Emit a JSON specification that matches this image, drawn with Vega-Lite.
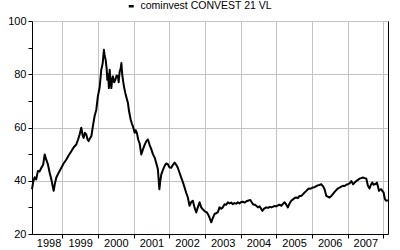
{
  "$schema": "https://vega.github.io/schema/vega-lite/v6.json",
  "autosize": "none",
  "width": 356,
  "height": 213,
  "padding": {"left": 32, "top": 21, "right": 12, "bottom": 16},
  "background": "white",
  "config": {
    "view": {"stroke": null},
    "font": "Liberation Sans",
    "axis": {"labelFont": "Liberation Sans", "labelFontSize": 11, "labelColor": "black", "domainColor": "black", "tickColor": "black", "gridColor": "#c4c4c4", "gridWidth": 1, "title": null}
  },
  "data": {"values": [
    {"date": "1998-02-24", "value": 36.8}, {"date": "1998-03-08", "value": 39.5}, {"date": "1998-03-23", "value": 41.3}, {"date": "1998-04-08", "value": 40.5},
    {"date": "1998-04-26", "value": 43.7}, {"date": "1998-05-13", "value": 43.5}, {"date": "1998-05-31", "value": 44.9}, {"date": "1998-06-18", "value": 46.0},
    {"date": "1998-07-04", "value": 49.9}, {"date": "1998-07-19", "value": 48.0}, {"date": "1998-08-06", "value": 46.2}, {"date": "1998-08-24", "value": 43.0},
    {"date": "1998-09-10", "value": 40.6}, {"date": "1998-09-24", "value": 38.0}, {"date": "1998-10-04", "value": 36.2}, {"date": "1998-10-17", "value": 39.0},
    {"date": "1998-10-31", "value": 41.2}, {"date": "1998-11-24", "value": 43.0}, {"date": "1998-12-22", "value": 44.9}, {"date": "1999-01-14", "value": 46.5},
    {"date": "1999-02-11", "value": 48.0}, {"date": "1999-03-06", "value": 49.5}, {"date": "1999-04-03", "value": 51.1}, {"date": "1999-04-26", "value": 52.5},
    {"date": "1999-05-24", "value": 53.6}, {"date": "1999-06-11", "value": 55.5}, {"date": "1999-06-27", "value": 57.4}, {"date": "1999-07-14", "value": 59.9},
    {"date": "1999-07-28", "value": 57.0}, {"date": "1999-08-07", "value": 56.1}, {"date": "1999-08-20", "value": 58.0}, {"date": "1999-09-03", "value": 57.4},
    {"date": "1999-09-17", "value": 55.5}, {"date": "1999-09-27", "value": 54.9}, {"date": "1999-10-12", "value": 56.0}, {"date": "1999-10-25", "value": 56.7},
    {"date": "1999-11-10", "value": 60.5}, {"date": "1999-11-27", "value": 64.2}, {"date": "1999-12-15", "value": 66.7}, {"date": "1999-12-31", "value": 71.7},
    {"date": "2000-01-18", "value": 75.0}, {"date": "2000-02-04", "value": 81.7}, {"date": "2000-02-18", "value": 84.0}, {"date": "2000-03-02", "value": 89.2},
    {"date": "2000-03-09", "value": 87.0}, {"date": "2000-03-20", "value": 85.4}, {"date": "2000-03-30", "value": 82.0}, {"date": "2000-04-06", "value": 77.9},
    {"date": "2000-04-14", "value": 80.0}, {"date": "2000-04-22", "value": 74.8}, {"date": "2000-04-30", "value": 81.7}, {"date": "2000-05-08", "value": 78.0},
    {"date": "2000-05-17", "value": 74.8}, {"date": "2000-05-25", "value": 78.0}, {"date": "2000-06-02", "value": 79.2}, {"date": "2000-06-15", "value": 77.0},
    {"date": "2000-06-27", "value": 77.9}, {"date": "2000-07-10", "value": 79.5}, {"date": "2000-07-24", "value": 79.2}, {"date": "2000-07-31", "value": 77.0},
    {"date": "2000-08-10", "value": 81.0}, {"date": "2000-08-20", "value": 82.0}, {"date": "2000-08-28", "value": 84.2}, {"date": "2000-09-05", "value": 80.0},
    {"date": "2000-09-13", "value": 77.9}, {"date": "2000-09-25", "value": 75.0}, {"date": "2000-10-07", "value": 73.0}, {"date": "2000-10-21", "value": 71.0},
    {"date": "2000-11-03", "value": 69.2}, {"date": "2000-11-15", "value": 66.0}, {"date": "2000-12-01", "value": 63.0}, {"date": "2000-12-13", "value": 61.5},
    {"date": "2000-12-24", "value": 60.5}, {"date": "2001-01-11", "value": 58.0}, {"date": "2001-01-21", "value": 59.0}, {"date": "2001-02-03", "value": 58.0},
    {"date": "2001-02-16", "value": 55.5}, {"date": "2001-03-03", "value": 54.0}, {"date": "2001-03-20", "value": 49.9}, {"date": "2001-04-06", "value": 51.8},
    {"date": "2001-04-23", "value": 53.5}, {"date": "2001-05-11", "value": 54.9}, {"date": "2001-05-27", "value": 55.5}, {"date": "2001-06-13", "value": 53.5},
    {"date": "2001-07-01", "value": 51.8}, {"date": "2001-07-17", "value": 50.0}, {"date": "2001-08-04", "value": 48.7}, {"date": "2001-08-21", "value": 46.5},
    {"date": "2001-09-06", "value": 44.3}, {"date": "2001-09-21", "value": 36.8}, {"date": "2001-10-01", "value": 40.0}, {"date": "2001-10-11", "value": 42.4},
    {"date": "2001-10-27", "value": 44.0}, {"date": "2001-11-13", "value": 45.5}, {"date": "2001-11-30", "value": 46.5}, {"date": "2001-12-17", "value": 46.2},
    {"date": "2002-01-04", "value": 45.0}, {"date": "2002-01-21", "value": 44.9}, {"date": "2002-02-07", "value": 46.0}, {"date": "2002-02-24", "value": 46.8},
    {"date": "2002-03-13", "value": 46.0}, {"date": "2002-03-29", "value": 44.9}, {"date": "2002-04-16", "value": 43.0}, {"date": "2002-05-03", "value": 41.2},
    {"date": "2002-05-20", "value": 39.5}, {"date": "2002-06-06", "value": 37.5}, {"date": "2002-06-23", "value": 35.5}, {"date": "2002-07-10", "value": 33.7},
    {"date": "2002-07-27", "value": 30.6}, {"date": "2002-08-14", "value": 32.0}, {"date": "2002-08-30", "value": 32.5}, {"date": "2002-09-16", "value": 30.0},
    {"date": "2002-10-04", "value": 28.1}, {"date": "2002-10-20", "value": 30.0}, {"date": "2002-11-07", "value": 31.9}, {"date": "2002-11-24", "value": 30.0},
    {"date": "2002-12-10", "value": 29.3}, {"date": "2002-12-31", "value": 28.5}, {"date": "2003-01-21", "value": 28.1}, {"date": "2003-02-07", "value": 27.0},
    {"date": "2003-02-17", "value": 26.2}, {"date": "2003-03-07", "value": 24.4}, {"date": "2003-03-23", "value": 26.0}, {"date": "2003-04-09", "value": 27.5},
    {"date": "2003-04-27", "value": 27.8}, {"date": "2003-05-13", "value": 28.1}, {"date": "2003-05-30", "value": 30.0}, {"date": "2003-06-17", "value": 29.5},
    {"date": "2003-07-03", "value": 30.0}, {"date": "2003-07-21", "value": 31.2}, {"date": "2003-08-07", "value": 31.0}, {"date": "2003-08-24", "value": 31.9},
    {"date": "2003-09-10", "value": 31.5}, {"date": "2003-09-27", "value": 31.8}, {"date": "2003-10-14", "value": 31.2}, {"date": "2003-10-31", "value": 31.6},
    {"date": "2003-11-18", "value": 31.4}, {"date": "2003-12-04", "value": 31.9}, {"date": "2003-12-21", "value": 31.5}, {"date": "2004-01-08", "value": 32.0},
    {"date": "2004-01-24", "value": 32.1}, {"date": "2004-02-11", "value": 31.8}, {"date": "2004-03-01", "value": 32.3}, {"date": "2004-03-16", "value": 32.5},
    {"date": "2004-04-10", "value": 32.8}, {"date": "2004-04-23", "value": 32.0}, {"date": "2004-05-07", "value": 31.2}, {"date": "2004-05-24", "value": 31.0},
    {"date": "2004-06-10", "value": 30.6}, {"date": "2004-06-27", "value": 30.0}, {"date": "2004-07-14", "value": 30.4}, {"date": "2004-07-30", "value": 29.5},
    {"date": "2004-08-11", "value": 28.7}, {"date": "2004-08-29", "value": 29.5}, {"date": "2004-09-21", "value": 30.0}, {"date": "2004-10-09", "value": 29.8},
    {"date": "2004-10-25", "value": 30.2}, {"date": "2004-11-11", "value": 30.0}, {"date": "2004-11-30", "value": 30.3}, {"date": "2004-12-15", "value": 30.5},
    {"date": "2005-01-02", "value": 30.4}, {"date": "2005-01-20", "value": 30.8}, {"date": "2005-02-04", "value": 31.0}, {"date": "2005-02-22", "value": 30.6},
    {"date": "2005-03-10", "value": 31.3}, {"date": "2005-03-27", "value": 31.9}, {"date": "2005-04-14", "value": 31.0}, {"date": "2005-04-30", "value": 30.0},
    {"date": "2005-05-18", "value": 31.5}, {"date": "2005-06-04", "value": 32.5}, {"date": "2005-06-22", "value": 33.0}, {"date": "2005-07-08", "value": 33.5},
    {"date": "2005-07-25", "value": 33.7}, {"date": "2005-08-13", "value": 33.5}, {"date": "2005-08-28", "value": 34.3}, {"date": "2005-09-15", "value": 34.3},
    {"date": "2005-10-03", "value": 35.0}, {"date": "2005-10-18", "value": 35.6}, {"date": "2005-11-05", "value": 36.2}, {"date": "2005-11-21", "value": 36.8},
    {"date": "2005-12-01", "value": 37.1}, {"date": "2005-12-19", "value": 37.0}, {"date": "2006-01-11", "value": 37.5}, {"date": "2006-01-29", "value": 37.6},
    {"date": "2006-02-15", "value": 38.0}, {"date": "2006-03-04", "value": 38.3}, {"date": "2006-03-21", "value": 38.4}, {"date": "2006-04-07", "value": 38.7},
    {"date": "2006-04-24", "value": 38.0}, {"date": "2006-05-11", "value": 36.8}, {"date": "2006-05-29", "value": 34.3}, {"date": "2006-06-14", "value": 34.0},
    {"date": "2006-07-01", "value": 33.7}, {"date": "2006-07-19", "value": 34.3}, {"date": "2006-08-04", "value": 35.0}, {"date": "2006-08-22", "value": 35.8},
    {"date": "2006-09-08", "value": 36.5}, {"date": "2006-09-25", "value": 37.1}, {"date": "2006-10-12", "value": 37.4}, {"date": "2006-10-29", "value": 37.8},
    {"date": "2006-11-15", "value": 38.1}, {"date": "2006-12-02", "value": 38.0}, {"date": "2006-12-20", "value": 38.5}, {"date": "2007-01-05", "value": 38.7},
    {"date": "2007-01-22", "value": 39.0}, {"date": "2007-02-09", "value": 39.9}, {"date": "2007-02-27", "value": 38.7}, {"date": "2007-03-15", "value": 39.3},
    {"date": "2007-04-01", "value": 39.9}, {"date": "2007-04-17", "value": 40.3}, {"date": "2007-05-05", "value": 40.8}, {"date": "2007-05-22", "value": 41.0},
    {"date": "2007-06-08", "value": 41.2}, {"date": "2007-06-25", "value": 41.0}, {"date": "2007-07-13", "value": 40.8}, {"date": "2007-07-29", "value": 38.1},
    {"date": "2007-08-15", "value": 37.1}, {"date": "2007-08-29", "value": 38.5}, {"date": "2007-09-12", "value": 39.3}, {"date": "2007-09-25", "value": 38.5},
    {"date": "2007-10-06", "value": 38.7}, {"date": "2007-10-18", "value": 38.8}, {"date": "2007-10-29", "value": 39.3}, {"date": "2007-11-08", "value": 38.0},
    {"date": "2007-11-19", "value": 36.2}, {"date": "2007-12-01", "value": 36.7}, {"date": "2007-12-13", "value": 36.8}, {"date": "2007-12-27", "value": 36.0},
    {"date": "2008-01-06", "value": 35.6}, {"date": "2008-01-19", "value": 33.1}, {"date": "2008-01-29", "value": 32.6}, {"date": "2008-02-08", "value": 32.5},
    {"date": "2008-02-19", "value": 32.7}
  ]},
  "resolve": {"axis": {"x": "independent", "y": "independent"}},
  "layer": [
    {
      "mark": {"type": "line", "strokeWidth": 2, "strokeJoin": "round"},
      "encoding": {
        "x": {
          "field": "date", "type": "temporal",
          "scale": {"type": "utc", "domain": [{"year": 1998, "month": 2, "date": 24, "utc": true}, {"year": 2008, "month": 2, "date": 20, "utc": true}]},
          "axis": {
            "orient": "bottom", "labels": false, "grid": true, "ticks": true, "tickSize": 4, "domain": true,
            "values": [
              {"year": 1999, "month": 1, "date": 1, "utc": true}, {"year": 2000, "month": 1, "date": 1, "utc": true},
              {"year": 2001, "month": 1, "date": 1, "utc": true}, {"year": 2002, "month": 1, "date": 1, "utc": true},
              {"year": 2003, "month": 1, "date": 1, "utc": true}, {"year": 2004, "month": 1, "date": 1, "utc": true},
              {"year": 2005, "month": 1, "date": 1, "utc": true}, {"year": 2006, "month": 1, "date": 1, "utc": true},
              {"year": 2007, "month": 1, "date": 1, "utc": true}, {"year": 2008, "month": 1, "date": 1, "utc": true}
            ]
          }
        },
        "y": {
          "field": "value", "type": "quantitative",
          "scale": {"domain": [20, 100], "nice": false, "zero": false},
          "axis": {
            "orient": "left", "values": [20, 30, 40, 50, 60, 70, 80, 90, 100], "tickSize": 4, "labelPadding": 2,
            "labelExpr": "datum.value % 20 === 0 ? datum.label : ''",
            "gridOpacity": {"condition": {"test": "datum.value % 20 === 0", "value": 1}, "value": 0}
          }
        },
        "color": {
          "datum": "cominvest CONVEST 21 VL",
          "scale": {"range": ["black"]},
          "legend": {
            "orient": "none", "legendX": 94, "legendY": -20, "title": null,
            "symbolType": "stroke", "symbolSize": 25, "symbolStrokeWidth": 2.5, "labelOffset": 4,
            "labelFont": "Liberation Sans", "labelFontSize": 10.5, "labelColor": "black"
          }
        }
      }
    },
    {
      "mark": {"type": "line", "strokeWidth": 2, "opacity": 0},
      "encoding": {
        "x": {
          "field": "date", "type": "temporal",
          "axis": {
            "orient": "bottom", "grid": false, "ticks": false, "domain": false, "format": "%Y", "labelPadding": 3,
            "values": [
              {"year": 1998, "month": 8, "date": 13, "utc": true}, {"year": 1999, "month": 7, "date": 2, "utc": true},
              {"year": 2000, "month": 7, "date": 2, "utc": true}, {"year": 2001, "month": 7, "date": 2, "utc": true},
              {"year": 2002, "month": 7, "date": 2, "utc": true}, {"year": 2003, "month": 7, "date": 2, "utc": true},
              {"year": 2004, "month": 7, "date": 2, "utc": true}, {"year": 2005, "month": 7, "date": 2, "utc": true},
              {"year": 2006, "month": 7, "date": 2, "utc": true}, {"year": 2007, "month": 7, "date": 2, "utc": true}
            ]
          }
        },
        "y": {
          "field": "value", "type": "quantitative",
          "axis": {"orient": "right", "labels": false, "ticks": false, "grid": false, "domain": true}
        }
      }
    }
  ]
}
